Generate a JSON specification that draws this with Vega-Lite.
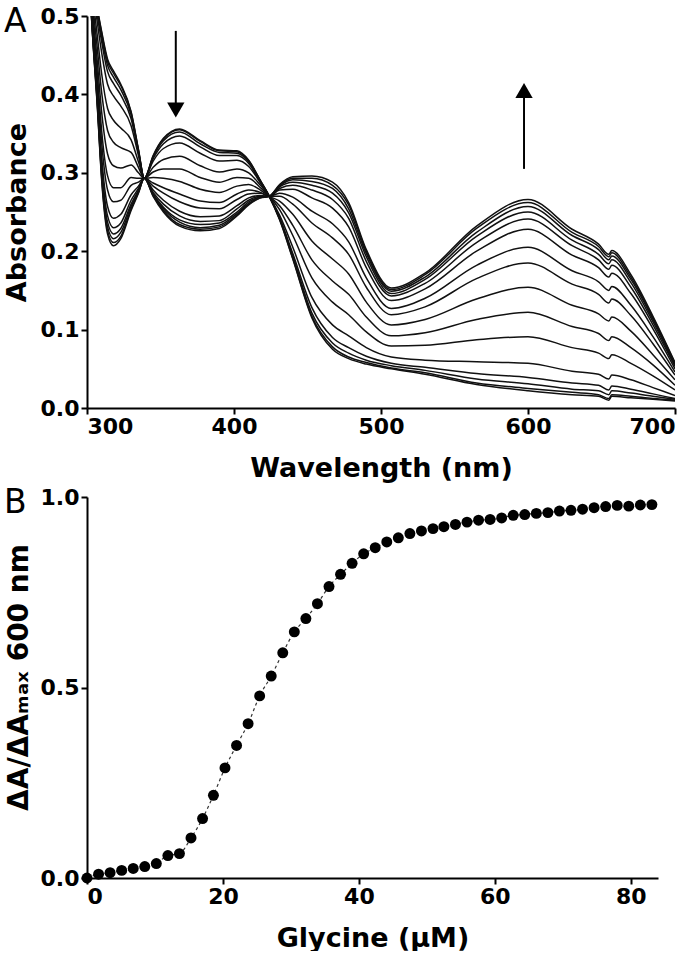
{
"$schema": "https://vega.github.io/schema/vega-lite/v6.json",
"background": "white",
"padding": {"left": 3, "top": 5, "right": 5, "bottom": 0},
"bounds": "flush",
"spacing": 89,
"config": {
  "font": "DejaVu Sans",
  "view": {"stroke": null},
  "axis": {"labelFont": "DejaVu Sans", "labelFontWeight": "bold", "labelFontSize": 22, "labelColor": "#000", "titleFont": "DejaVu Sans", "titleFontWeight": "bold", "titleFontSize": 27, "titleColor": "#000", "domainColor": "#000", "domainWidth": 2, "tickColor": "#000", "tickWidth": 2, "tickSize": 6, "grid": false, "labelPadding": 2}
},
"vconcat": [
{
  "width": 588, "height": 392,
  "title": {"text": "A", "anchor": "start", "frame": "group", "orient": "top", "fontSize": 33, "fontWeight": "normal", "font": "DejaVu Sans", "color": "#000", "dx": -83, "baseline": "top", "offset": -34},
  "layer": [
    {
      "data": {"values": [
{"c":0,"w":300,"a":0.62},{"c":1,"w":300,"a":0.62},{"c":2,"w":300,"a":0.62},{"c":3,"w":300,"a":0.62},{"c":4,"w":300,"a":0.62},{"c":5,"w":300,"a":0.62},{"c":6,"w":300,"a":0.62},{"c":7,"w":300,"a":0.62},{"c":8,"w":300,"a":0.62},{"c":9,"w":300,"a":0.62},{"c":10,"w":300,"a":0.62},{"c":11,"w":300,"a":0.62},{"c":12,"w":300,"a":0.62},{"c":13,"w":300,"a":0.62},{"c":14,"w":300,"a":0.62},{"c":15,"w":300,"a":0.62},
{"c":0,"w":303,"a":0.56},{"c":1,"w":303,"a":0.559},{"c":2,"w":303,"a":0.558},{"c":3,"w":303,"a":0.556},{"c":4,"w":303,"a":0.551},{"c":5,"w":303,"a":0.543},{"c":6,"w":303,"a":0.535},{"c":7,"w":303,"a":0.528},{"c":8,"w":303,"a":0.52},{"c":9,"w":303,"a":0.515},{"c":10,"w":303,"a":0.509},{"c":11,"w":303,"a":0.506},{"c":12,"w":303,"a":0.504},{"c":13,"w":303,"a":0.502},{"c":14,"w":303,"a":0.501},{"c":15,"w":303,"a":0.5},
{"c":0,"w":307,"a":0.51},{"c":1,"w":307,"a":0.509},{"c":2,"w":307,"a":0.506},{"c":3,"w":307,"a":0.501},{"c":4,"w":307,"a":0.492},{"c":5,"w":307,"a":0.475},{"c":6,"w":307,"a":0.459},{"c":7,"w":307,"a":0.442},{"c":8,"w":307,"a":0.427},{"c":9,"w":307,"a":0.416},{"c":10,"w":307,"a":0.405},{"c":11,"w":307,"a":0.398},{"c":12,"w":307,"a":0.393},{"c":13,"w":307,"a":0.39},{"c":14,"w":307,"a":0.387},{"c":15,"w":307,"a":0.385},
{"c":0,"w":310,"a":0.48},{"c":1,"w":310,"a":0.478},{"c":2,"w":310,"a":0.473},{"c":3,"w":310,"a":0.467},{"c":4,"w":310,"a":0.453},{"c":5,"w":310,"a":0.426},{"c":6,"w":310,"a":0.402},{"c":7,"w":310,"a":0.377},{"c":8,"w":310,"a":0.353},{"c":9,"w":310,"a":0.338},{"c":10,"w":310,"a":0.32},{"c":11,"w":310,"a":0.309},{"c":12,"w":310,"a":0.302},{"c":13,"w":310,"a":0.297},{"c":14,"w":310,"a":0.293},{"c":15,"w":310,"a":0.29},
{"c":0,"w":314,"a":0.445},{"c":1,"w":314,"a":0.442},{"c":2,"w":314,"a":0.437},{"c":3,"w":314,"a":0.429},{"c":4,"w":314,"a":0.413},{"c":5,"w":314,"a":0.382},{"c":6,"w":314,"a":0.354},{"c":7,"w":314,"a":0.324},{"c":8,"w":314,"a":0.296},{"c":9,"w":314,"a":0.278},{"c":10,"w":314,"a":0.257},{"c":11,"w":314,"a":0.245},{"c":12,"w":314,"a":0.237},{"c":13,"w":314,"a":0.231},{"c":14,"w":314,"a":0.226},{"c":15,"w":314,"a":0.222},
{"c":0,"w":318,"a":0.43},{"c":1,"w":318,"a":0.427},{"c":2,"w":318,"a":0.422},{"c":3,"w":318,"a":0.414},{"c":4,"w":318,"a":0.398},{"c":5,"w":318,"a":0.367},{"c":6,"w":318,"a":0.339},{"c":7,"w":318,"a":0.309},{"c":8,"w":318,"a":0.281},{"c":9,"w":318,"a":0.263},{"c":10,"w":318,"a":0.242},{"c":11,"w":318,"a":0.23},{"c":12,"w":318,"a":0.222},{"c":13,"w":318,"a":0.216},{"c":14,"w":318,"a":0.211},{"c":15,"w":318,"a":0.207},
{"c":0,"w":323,"a":0.413},{"c":1,"w":323,"a":0.411},{"c":2,"w":323,"a":0.406},{"c":3,"w":323,"a":0.399},{"c":4,"w":323,"a":0.385},{"c":5,"w":323,"a":0.357},{"c":6,"w":323,"a":0.332},{"c":7,"w":323,"a":0.306},{"c":8,"w":323,"a":0.281},{"c":9,"w":323,"a":0.265},{"c":10,"w":323,"a":0.247},{"c":11,"w":323,"a":0.236},{"c":12,"w":323,"a":0.229},{"c":13,"w":323,"a":0.224},{"c":14,"w":323,"a":0.219},{"c":15,"w":323,"a":0.216},
{"c":0,"w":330,"a":0.378},{"c":1,"w":330,"a":0.377},{"c":2,"w":330,"a":0.374},{"c":3,"w":330,"a":0.369},{"c":4,"w":330,"a":0.36},{"c":5,"w":330,"a":0.342},{"c":6,"w":330,"a":0.326},{"c":7,"w":330,"a":0.31},{"c":8,"w":330,"a":0.294},{"c":9,"w":330,"a":0.284},{"c":10,"w":330,"a":0.272},{"c":11,"w":330,"a":0.265},{"c":12,"w":330,"a":0.26},{"c":13,"w":330,"a":0.257},{"c":14,"w":330,"a":0.254},{"c":15,"w":330,"a":0.252},
{"c":0,"w":335,"a":0.33},{"c":1,"w":335,"a":0.329},{"c":2,"w":335,"a":0.328},{"c":3,"w":335,"a":0.326},{"c":4,"w":335,"a":0.322},{"c":5,"w":335,"a":0.314},{"c":6,"w":335,"a":0.307},{"c":7,"w":335,"a":0.3},{"c":8,"w":335,"a":0.293},{"c":9,"w":335,"a":0.288},{"c":10,"w":335,"a":0.283},{"c":11,"w":335,"a":0.28},{"c":12,"w":335,"a":0.278},{"c":13,"w":335,"a":0.276},{"c":14,"w":335,"a":0.275},{"c":15,"w":335,"a":0.274},
{"c":0,"w":339,"a":0.293},{"c":1,"w":339,"a":0.293},{"c":2,"w":339,"a":0.293},{"c":3,"w":339,"a":0.293},{"c":4,"w":339,"a":0.293},{"c":5,"w":339,"a":0.293},{"c":6,"w":339,"a":0.293},{"c":7,"w":339,"a":0.293},{"c":8,"w":339,"a":0.293},{"c":9,"w":339,"a":0.293},{"c":10,"w":339,"a":0.293},{"c":11,"w":339,"a":0.293},{"c":12,"w":339,"a":0.293},{"c":13,"w":339,"a":0.293},{"c":14,"w":339,"a":0.293},{"c":15,"w":339,"a":0.293},
{"c":0,"w":345,"a":0.322},{"c":1,"w":345,"a":0.321},{"c":2,"w":345,"a":0.32},{"c":3,"w":345,"a":0.318},{"c":4,"w":345,"a":0.315},{"c":5,"w":345,"a":0.307},{"c":6,"w":345,"a":0.301},{"c":7,"w":345,"a":0.294},{"c":8,"w":345,"a":0.287},{"c":9,"w":345,"a":0.283},{"c":10,"w":345,"a":0.278},{"c":11,"w":345,"a":0.275},{"c":12,"w":345,"a":0.273},{"c":13,"w":345,"a":0.272},{"c":14,"w":345,"a":0.271},{"c":15,"w":345,"a":0.27},
{"c":0,"w":352,"a":0.344},{"c":1,"w":352,"a":0.343},{"c":2,"w":352,"a":0.341},{"c":3,"w":352,"a":0.337},{"c":4,"w":352,"a":0.331},{"c":5,"w":352,"a":0.317},{"c":6,"w":352,"a":0.305},{"c":7,"w":352,"a":0.293},{"c":8,"w":352,"a":0.281},{"c":9,"w":352,"a":0.274},{"c":10,"w":352,"a":0.265},{"c":11,"w":352,"a":0.26},{"c":12,"w":352,"a":0.256},{"c":13,"w":352,"a":0.254},{"c":14,"w":352,"a":0.252},{"c":15,"w":352,"a":0.25},
{"c":0,"w":363,"a":0.356},{"c":1,"w":363,"a":0.355},{"c":2,"w":363,"a":0.352},{"c":3,"w":363,"a":0.347},{"c":4,"w":363,"a":0.338},{"c":5,"w":363,"a":0.321},{"c":6,"w":363,"a":0.305},{"c":7,"w":363,"a":0.289},{"c":8,"w":363,"a":0.273},{"c":9,"w":363,"a":0.263},{"c":10,"w":363,"a":0.251},{"c":11,"w":363,"a":0.245},{"c":12,"w":363,"a":0.24},{"c":13,"w":363,"a":0.237},{"c":14,"w":363,"a":0.234},{"c":15,"w":363,"a":0.232},
{"c":0,"w":377,"a":0.341},{"c":1,"w":377,"a":0.34},{"c":2,"w":377,"a":0.337},{"c":3,"w":377,"a":0.333},{"c":4,"w":377,"a":0.325},{"c":5,"w":377,"a":0.309},{"c":6,"w":377,"a":0.294},{"c":7,"w":377,"a":0.279},{"c":8,"w":377,"a":0.264},{"c":9,"w":377,"a":0.255},{"c":10,"w":377,"a":0.244},{"c":11,"w":377,"a":0.238},{"c":12,"w":377,"a":0.234},{"c":13,"w":377,"a":0.23},{"c":14,"w":377,"a":0.228},{"c":15,"w":377,"a":0.226},
{"c":0,"w":390,"a":0.329},{"c":1,"w":390,"a":0.328},{"c":2,"w":390,"a":0.326},{"c":3,"w":390,"a":0.322},{"c":4,"w":390,"a":0.315},{"c":5,"w":390,"a":0.301},{"c":6,"w":390,"a":0.288},{"c":7,"w":390,"a":0.275},{"c":8,"w":390,"a":0.262},{"c":9,"w":390,"a":0.254},{"c":10,"w":390,"a":0.245},{"c":11,"w":390,"a":0.239},{"c":12,"w":390,"a":0.236},{"c":13,"w":390,"a":0.233},{"c":14,"w":390,"a":0.231},{"c":15,"w":390,"a":0.229},
{"c":0,"w":402,"a":0.328},{"c":1,"w":402,"a":0.327},{"c":2,"w":402,"a":0.325},{"c":3,"w":402,"a":0.322},{"c":4,"w":402,"a":0.316},{"c":5,"w":402,"a":0.305},{"c":6,"w":402,"a":0.294},{"c":7,"w":402,"a":0.283},{"c":8,"w":402,"a":0.273},{"c":9,"w":402,"a":0.266},{"c":10,"w":402,"a":0.258},{"c":11,"w":402,"a":0.254},{"c":12,"w":402,"a":0.25},{"c":13,"w":402,"a":0.248},{"c":14,"w":402,"a":0.246},{"c":15,"w":402,"a":0.245},
{"c":0,"w":410,"a":0.316},{"c":1,"w":410,"a":0.315},{"c":2,"w":410,"a":0.314},{"c":3,"w":410,"a":0.312},{"c":4,"w":410,"a":0.308},{"c":5,"w":410,"a":0.3},{"c":6,"w":410,"a":0.293},{"c":7,"w":410,"a":0.285},{"c":8,"w":410,"a":0.278},{"c":9,"w":410,"a":0.273},{"c":10,"w":410,"a":0.268},{"c":11,"w":410,"a":0.265},{"c":12,"w":410,"a":0.263},{"c":13,"w":410,"a":0.261},{"c":14,"w":410,"a":0.26},{"c":15,"w":410,"a":0.259},
{"c":0,"w":418,"a":0.29},{"c":1,"w":418,"a":0.29},{"c":2,"w":418,"a":0.289},{"c":3,"w":418,"a":0.288},{"c":4,"w":418,"a":0.287},{"c":5,"w":418,"a":0.284},{"c":6,"w":418,"a":0.281},{"c":7,"w":418,"a":0.278},{"c":8,"w":418,"a":0.275},{"c":9,"w":418,"a":0.274},{"c":10,"w":418,"a":0.271},{"c":11,"w":418,"a":0.27},{"c":12,"w":418,"a":0.269},{"c":13,"w":418,"a":0.269},{"c":14,"w":418,"a":0.268},{"c":15,"w":418,"a":0.268},
{"c":0,"w":424,"a":0.27},{"c":1,"w":424,"a":0.27},{"c":2,"w":424,"a":0.27},{"c":3,"w":424,"a":0.27},{"c":4,"w":424,"a":0.27},{"c":5,"w":424,"a":0.27},{"c":6,"w":424,"a":0.27},{"c":7,"w":424,"a":0.27},{"c":8,"w":424,"a":0.27},{"c":9,"w":424,"a":0.27},{"c":10,"w":424,"a":0.27},{"c":11,"w":424,"a":0.27},{"c":12,"w":424,"a":0.27},{"c":13,"w":424,"a":0.27},{"c":14,"w":424,"a":0.27},{"c":15,"w":424,"a":0.27},
{"c":0,"w":431,"a":0.24},{"c":1,"w":431,"a":0.241},{"c":2,"w":431,"a":0.242},{"c":3,"w":431,"a":0.243},{"c":4,"w":431,"a":0.246},{"c":5,"w":431,"a":0.253},{"c":6,"w":431,"a":0.258},{"c":7,"w":431,"a":0.264},{"c":8,"w":431,"a":0.27},{"c":9,"w":431,"a":0.274},{"c":10,"w":431,"a":0.278},{"c":11,"w":431,"a":0.28},{"c":12,"w":431,"a":0.282},{"c":13,"w":431,"a":0.283},{"c":14,"w":431,"a":0.284},{"c":15,"w":431,"a":0.285},
{"c":0,"w":440,"a":0.19},{"c":1,"w":440,"a":0.191},{"c":2,"w":440,"a":0.194},{"c":3,"w":440,"a":0.197},{"c":4,"w":440,"a":0.205},{"c":5,"w":440,"a":0.22},{"c":6,"w":440,"a":0.233},{"c":7,"w":440,"a":0.247},{"c":8,"w":440,"a":0.26},{"c":9,"w":440,"a":0.269},{"c":10,"w":440,"a":0.279},{"c":11,"w":440,"a":0.284},{"c":12,"w":440,"a":0.288},{"c":13,"w":440,"a":0.291},{"c":14,"w":440,"a":0.293},{"c":15,"w":440,"a":0.295},
{"c":0,"w":453,"a":0.115},{"c":1,"w":453,"a":0.117},{"c":2,"w":453,"a":0.121},{"c":3,"w":453,"a":0.128},{"c":4,"w":453,"a":0.141},{"c":5,"w":453,"a":0.166},{"c":6,"w":453,"a":0.189},{"c":7,"w":453,"a":0.213},{"c":8,"w":453,"a":0.236},{"c":9,"w":453,"a":0.251},{"c":10,"w":453,"a":0.268},{"c":11,"w":453,"a":0.278},{"c":12,"w":453,"a":0.284},{"c":13,"w":453,"a":0.289},{"c":14,"w":453,"a":0.293},{"c":15,"w":453,"a":0.296},
{"c":0,"w":467,"a":0.075},{"c":1,"w":467,"a":0.078},{"c":2,"w":467,"a":0.083},{"c":3,"w":467,"a":0.09},{"c":4,"w":467,"a":0.106},{"c":5,"w":467,"a":0.135},{"c":6,"w":467,"a":0.162},{"c":7,"w":467,"a":0.19},{"c":8,"w":467,"a":0.217},{"c":9,"w":467,"a":0.235},{"c":10,"w":467,"a":0.255},{"c":11,"w":467,"a":0.266},{"c":12,"w":467,"a":0.274},{"c":13,"w":467,"a":0.28},{"c":14,"w":467,"a":0.284},{"c":15,"w":467,"a":0.288},
{"c":0,"w":478,"a":0.063},{"c":1,"w":478,"a":0.065},{"c":2,"w":478,"a":0.07},{"c":3,"w":478,"a":0.077},{"c":4,"w":478,"a":0.092},{"c":5,"w":478,"a":0.119},{"c":6,"w":478,"a":0.145},{"c":7,"w":478,"a":0.171},{"c":8,"w":478,"a":0.196},{"c":9,"w":478,"a":0.212},{"c":10,"w":478,"a":0.231},{"c":11,"w":478,"a":0.242},{"c":12,"w":478,"a":0.249},{"c":13,"w":478,"a":0.254},{"c":14,"w":478,"a":0.259},{"c":15,"w":478,"a":0.262},
{"c":0,"w":490,"a":0.056},{"c":1,"w":490,"a":0.058},{"c":2,"w":490,"a":0.061},{"c":3,"w":490,"a":0.066},{"c":4,"w":490,"a":0.077},{"c":5,"w":490,"a":0.097},{"c":6,"w":490,"a":0.116},{"c":7,"w":490,"a":0.135},{"c":8,"w":490,"a":0.154},{"c":9,"w":490,"a":0.166},{"c":10,"w":490,"a":0.179},{"c":11,"w":490,"a":0.187},{"c":12,"w":490,"a":0.193},{"c":13,"w":490,"a":0.197},{"c":14,"w":490,"a":0.2},{"c":15,"w":490,"a":0.202},
{"c":0,"w":507,"a":0.05},{"c":1,"w":507,"a":0.051},{"c":2,"w":507,"a":0.054},{"c":3,"w":507,"a":0.057},{"c":4,"w":507,"a":0.065},{"c":5,"w":507,"a":0.079},{"c":6,"w":507,"a":0.092},{"c":7,"w":507,"a":0.106},{"c":8,"w":507,"a":0.119},{"c":9,"w":507,"a":0.127},{"c":10,"w":507,"a":0.137},{"c":11,"w":507,"a":0.143},{"c":12,"w":507,"a":0.146},{"c":13,"w":507,"a":0.149},{"c":14,"w":507,"a":0.151},{"c":15,"w":507,"a":0.153},
{"c":0,"w":530,"a":0.043},{"c":1,"w":530,"a":0.045},{"c":2,"w":530,"a":0.048},{"c":3,"w":530,"a":0.052},{"c":4,"w":530,"a":0.061},{"c":5,"w":530,"a":0.08},{"c":6,"w":530,"a":0.096},{"c":7,"w":530,"a":0.113},{"c":8,"w":530,"a":0.129},{"c":9,"w":530,"a":0.14},{"c":10,"w":530,"a":0.152},{"c":11,"w":530,"a":0.159},{"c":12,"w":530,"a":0.164},{"c":13,"w":530,"a":0.167},{"c":14,"w":530,"a":0.17},{"c":15,"w":530,"a":0.172},
{"c":0,"w":565,"a":0.03},{"c":1,"w":565,"a":0.032},{"c":2,"w":565,"a":0.037},{"c":3,"w":565,"a":0.044},{"c":4,"w":565,"a":0.059},{"c":5,"w":565,"a":0.087},{"c":6,"w":565,"a":0.113},{"c":7,"w":565,"a":0.139},{"c":8,"w":565,"a":0.165},{"c":9,"w":565,"a":0.182},{"c":10,"w":565,"a":0.2},{"c":11,"w":565,"a":0.211},{"c":12,"w":565,"a":0.219},{"c":13,"w":565,"a":0.224},{"c":14,"w":565,"a":0.229},{"c":15,"w":565,"a":0.232},
{"c":0,"w":600,"a":0.022},{"c":1,"w":600,"a":0.025},{"c":2,"w":600,"a":0.031},{"c":3,"w":600,"a":0.039},{"c":4,"w":600,"a":0.057},{"c":5,"w":600,"a":0.091},{"c":6,"w":600,"a":0.122},{"c":7,"w":600,"a":0.154},{"c":8,"w":600,"a":0.185},{"c":9,"w":600,"a":0.205},{"c":10,"w":600,"a":0.228},{"c":11,"w":600,"a":0.241},{"c":12,"w":600,"a":0.25},{"c":13,"w":600,"a":0.257},{"c":14,"w":600,"a":0.262},{"c":15,"w":600,"a":0.266},
{"c":0,"w":630,"a":0.017},{"c":1,"w":630,"a":0.02},{"c":2,"w":630,"a":0.024},{"c":3,"w":630,"a":0.032},{"c":4,"w":630,"a":0.047},{"c":5,"w":630,"a":0.077},{"c":6,"w":630,"a":0.104},{"c":7,"w":630,"a":0.131},{"c":8,"w":630,"a":0.158},{"c":9,"w":630,"a":0.175},{"c":10,"w":630,"a":0.195},{"c":11,"w":630,"a":0.207},{"c":12,"w":630,"a":0.214},{"c":13,"w":630,"a":0.22},{"c":14,"w":630,"a":0.224},{"c":15,"w":630,"a":0.228},
{"c":0,"w":648,"a":0.015},{"c":1,"w":648,"a":0.017},{"c":2,"w":648,"a":0.022},{"c":3,"w":648,"a":0.029},{"c":4,"w":648,"a":0.043},{"c":5,"w":648,"a":0.07},{"c":6,"w":648,"a":0.095},{"c":7,"w":648,"a":0.12},{"c":8,"w":648,"a":0.145},{"c":9,"w":648,"a":0.161},{"c":10,"w":648,"a":0.179},{"c":11,"w":648,"a":0.189},{"c":12,"w":648,"a":0.196},{"c":13,"w":648,"a":0.202},{"c":14,"w":648,"a":0.206},{"c":15,"w":648,"a":0.209},
{"c":0,"w":655,"a":0.01},{"c":1,"w":655,"a":0.012},{"c":2,"w":655,"a":0.017},{"c":3,"w":655,"a":0.023},{"c":4,"w":655,"a":0.037},{"c":5,"w":655,"a":0.063},{"c":6,"w":655,"a":0.086},{"c":7,"w":655,"a":0.111},{"c":8,"w":655,"a":0.134},{"c":9,"w":655,"a":0.15},{"c":10,"w":655,"a":0.167},{"c":11,"w":655,"a":0.177},{"c":12,"w":655,"a":0.184},{"c":13,"w":655,"a":0.189},{"c":14,"w":655,"a":0.193},{"c":15,"w":655,"a":0.196},
{"c":0,"w":657,"a":0.015},{"c":1,"w":657,"a":0.017},{"c":2,"w":657,"a":0.022},{"c":3,"w":657,"a":0.028},{"c":4,"w":657,"a":0.042},{"c":5,"w":657,"a":0.068},{"c":6,"w":657,"a":0.091},{"c":7,"w":657,"a":0.116},{"c":8,"w":657,"a":0.139},{"c":9,"w":657,"a":0.155},{"c":10,"w":657,"a":0.172},{"c":11,"w":657,"a":0.182},{"c":12,"w":657,"a":0.189},{"c":13,"w":657,"a":0.194},{"c":14,"w":657,"a":0.198},{"c":15,"w":657,"a":0.201},
{"c":0,"w":670,"a":0.013},{"c":1,"w":670,"a":0.015},{"c":2,"w":670,"a":0.019},{"c":3,"w":670,"a":0.024},{"c":4,"w":670,"a":0.036},{"c":5,"w":670,"a":0.057},{"c":6,"w":670,"a":0.077},{"c":7,"w":670,"a":0.098},{"c":8,"w":670,"a":0.118},{"c":9,"w":670,"a":0.131},{"c":10,"w":670,"a":0.146},{"c":11,"w":670,"a":0.154},{"c":12,"w":670,"a":0.16},{"c":13,"w":670,"a":0.164},{"c":14,"w":670,"a":0.167},{"c":15,"w":670,"a":0.17},
{"c":0,"w":685,"a":0.011},{"c":1,"w":685,"a":0.012},{"c":2,"w":685,"a":0.015},{"c":3,"w":685,"a":0.018},{"c":4,"w":685,"a":0.026},{"c":5,"w":685,"a":0.041},{"c":6,"w":685,"a":0.055},{"c":7,"w":685,"a":0.068},{"c":8,"w":685,"a":0.082},{"c":9,"w":685,"a":0.091},{"c":10,"w":685,"a":0.101},{"c":11,"w":685,"a":0.106},{"c":12,"w":685,"a":0.11},{"c":13,"w":685,"a":0.113},{"c":14,"w":685,"a":0.115},{"c":15,"w":685,"a":0.117},
{"c":0,"w":700,"a":0.009},{"c":1,"w":700,"a":0.01},{"c":2,"w":700,"a":0.011},{"c":3,"w":700,"a":0.012},{"c":4,"w":700,"a":0.016},{"c":5,"w":700,"a":0.023},{"c":6,"w":700,"a":0.029},{"c":7,"w":700,"a":0.036},{"c":8,"w":700,"a":0.042},{"c":9,"w":700,"a":0.046},{"c":10,"w":700,"a":0.05},{"c":11,"w":700,"a":0.053},{"c":12,"w":700,"a":0.055},{"c":13,"w":700,"a":0.056},{"c":14,"w":700,"a":0.057},{"c":15,"w":700,"a":0.058}
      ]},
      "mark": {"type": "line", "interpolate": "monotone", "clip": true, "color": "#111", "strokeWidth": 1.5},
      "encoding": {
        "x": {"field": "w", "type": "quantitative", "scale": {"domain": [300, 700], "nice": false}, "axis": {"values": [300, 400, 500, 600, 700], "title": "Wavelength (nm)", "titlePadding": 18}},
        "y": {"field": "a", "type": "quantitative", "scale": {"domain": [0, 0.5], "nice": false}, "axis": {"values": [0, 0.1, 0.2, 0.3, 0.4, 0.5], "format": ".1f", "title": "Absorbance", "titlePadding": 9}},
        "detail": {"field": "c", "type": "nominal"}
      }
    },
    {
      "data": {"values": [{"g": 1, "w": 360.4, "a": 0.481}, {"g": 1, "w": 360.4, "a": 0.386}, {"g": 2, "w": 597.3, "a": 0.305}, {"g": 2, "w": 597.3, "a": 0.398}]},
      "mark": {"type": "line", "color": "#000", "strokeWidth": 2},
      "encoding": {
        "x": {"field": "w", "type": "quantitative"},
        "y": {"field": "a", "type": "quantitative"},
        "detail": {"field": "g", "type": "nominal"}
      }
    },
    {
      "data": {"values": [{"w": 360.4, "a": 0.38, "s": "triangle-down"}, {"w": 597.3, "a": 0.405, "s": "triangle-up"}]},
      "mark": {"type": "point", "filled": true, "color": "#000", "size": 300, "opacity": 1},
      "encoding": {
        "x": {"field": "w", "type": "quantitative"},
        "y": {"field": "a", "type": "quantitative"},
        "shape": {"field": "s", "type": "nominal", "scale": null}
      }
    }
  ]
},
{
  "width": 571, "height": 381,
  "title": {"text": "B", "anchor": "start", "frame": "group", "orient": "top", "fontSize": 33, "fontWeight": "normal", "font": "DejaVu Sans", "color": "#000", "dx": -83, "baseline": "top", "offset": -34},
  "data": {"values": [
{"g":0,"r":0},{"g":1.7,"r":0.01},{"g":3.4,"r":0.014},{"g":5.1,"r":0.02},{"g":6.8,"r":0.025},{"g":8.5,"r":0.03},{"g":10.2,"r":0.038},{"g":11.9,"r":0.059},{"g":13.6,"r":0.064},{"g":15.3,"r":0.105},
{"g":17.0,"r":0.156},{"g":18.6,"r":0.217},{"g":20.3,"r":0.289},{"g":22.0,"r":0.348},{"g":23.7,"r":0.405},{"g":25.4,"r":0.478},{"g":27.1,"r":0.53},{"g":28.8,"r":0.591},{"g":30.5,"r":0.646},{"g":32.2,"r":0.681},
{"g":33.9,"r":0.72},{"g":35.6,"r":0.765},{"g":37.3,"r":0.797},{"g":39.0,"r":0.826},{"g":40.7,"r":0.851},{"g":42.4,"r":0.867},{"g":44.1,"r":0.882},{"g":45.8,"r":0.893},{"g":47.5,"r":0.904},{"g":49.2,"r":0.911},
{"g":50.9,"r":0.917},{"g":52.5,"r":0.922},{"g":54.2,"r":0.928},{"g":55.9,"r":0.934},{"g":57.6,"r":0.939},{"g":59.3,"r":0.941},{"g":61.0,"r":0.945},{"g":62.7,"r":0.952},{"g":64.4,"r":0.954},{"g":66.1,"r":0.957},
{"g":67.8,"r":0.959},{"g":69.5,"r":0.963},{"g":71.2,"r":0.965},{"g":72.9,"r":0.968},{"g":74.6,"r":0.972},{"g":76.3,"r":0.975},{"g":78.0,"r":0.978},{"g":79.7,"r":0.976},{"g":81.4,"r":0.979},{"g":83.1,"r":0.98}
  ]},
  "encoding": {
    "x": {"field": "g", "type": "quantitative", "scale": {"domain": [0, 84], "nice": false}, "axis": {"values": [0, 20, 40, 60, 80], "title": "Glycine (μM)", "titlePadding": 18}},
    "y": {"field": "r", "type": "quantitative", "scale": {"domain": [0, 1], "nice": false}, "axis": {"values": [0, 0.5, 1], "format": ".1f", "title": "ΔA/ΔAₘₐₓ 600 nm", "titlePadding": 7, "titleFontSize": 28, "titleY": 180}}
  },
  "layer": [
    {"mark": {"type": "line", "interpolate": "monotone", "color": "#333", "strokeWidth": 1.2, "strokeDash": [3, 3]}},
    {"mark": {"type": "circle", "color": "#000", "size": 120, "opacity": 1, "clip": false}}
  ]
}
]
}
